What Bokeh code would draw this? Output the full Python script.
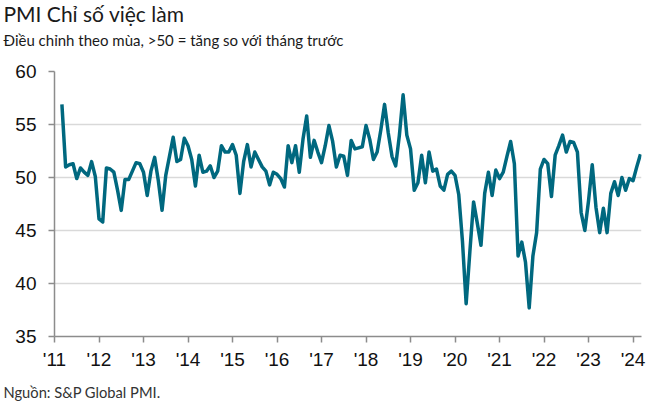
import pandas as pd
from bokeh.plotting import figure
from bokeh.models import Range1d, FixedTicker, ColumnDataSource, Title
from bokeh.embed import file_html
from bokeh.resources import INLINE

title_text = "PMI Chỉ số việc làm"
subtitle_text = "Điều chỉnh theo mùa, >50 = tăng so với tháng trước"
source_text = "Nguồn: S&P Global PMI."

first_month = "2011-03-01"
values = [
    56.9, 51.0, 51.2, 51.3, 49.9, 50.9, 50.5, 50.2, 51.5, 50.1,            # 2011 Mar-Dec
    46.1, 45.8, 50.9, 50.8, 50.5, 48.8, 46.9, 49.8, 49.8, 50.6, 51.4, 51.3,  # 2012
    50.5, 48.3, 50.6, 51.9, 49.7, 46.9, 50.2, 52.0, 53.8, 51.5, 51.7, 53.7,  # 2013
    53.0, 51.7, 49.2, 52.1, 50.5, 50.6, 51.1, 50.0, 50.6, 53.0, 52.4, 52.4,  # 2014
    53.1, 52.1, 48.5, 51.5, 53.1, 51.0, 52.4, 51.7, 51.0, 50.6, 49.3, 50.5,  # 2015
    50.3, 49.9, 49.1, 53.0, 51.4, 53.0, 50.5, 53.6, 55.8, 51.9, 53.5, 52.4,  # 2016
    51.4, 53.0, 54.9, 53.4, 51.0, 52.1, 52.0, 50.2, 53.5, 52.7, 52.8, 52.9,  # 2017
    54.9, 53.6, 51.7, 52.4, 54.5, 56.9, 54.2, 52.0, 51.1, 54.0, 57.8, 54.0,  # 2018
    52.7, 48.8, 49.5, 52.1, 49.5, 52.4, 50.6, 50.8, 49.2, 48.8, 50.3, 50.6,  # 2019
    50.2, 48.4, 44.0, 38.1, 43.0, 47.7, 45.7, 43.6, 48.5, 50.5, 48.3, 50.7,  # 2020
    49.9, 50.5, 52.0, 53.4, 51.3, 42.6, 43.9, 42.0, 37.7, 42.6, 44.8, 50.8,  # 2021
    51.7, 51.3, 48.2, 52.1, 53.0, 54.0, 52.4, 53.4, 53.3, 52.4, 46.7, 45.0,  # 2022
    47.8, 51.2, 47.2, 44.8, 47.1, 44.8, 48.5, 49.6, 48.3, 50.0, 48.8, 49.9,  # 2023
    49.7, 51.0, 52.2,                                                        # 2024 Jan-Mar
]

y_ticks = [35, 40, 45, 50, 55, 60]
x_tick_years = list(range(2011, 2025))
x_tick_labels = {y: "'" + str(y)[2:] for y in x_tick_years}

dates = pd.date_range(start=first_month, periods=len(values), freq="MS")
xs = list(dates.year + (dates.month - 1) / 12.0)
src = ColumnDataSource(data=dict(x=xs, y=values))

p = figure(width=650, height=405, output_backend="svg", toolbar_location=None,
           x_range=Range1d(2011.0, 2024.19), y_range=Range1d(35, 60),
           min_border_left=54, min_border_right=9, min_border_top=0, min_border_bottom=0)
p.outline_line_color = None
p.background_fill_color = "white"
p.border_fill_color = "white"

p.line("x", "y", source=src, line_color="#00687f", line_width=3.5, line_join="round")

for ax in (p.xaxis[0], p.yaxis[0]):
    ax.axis_line_color = "#8c8c8c"
    ax.axis_line_width = 1.5
    ax.major_tick_line_color = "#8c8c8c"
    ax.major_tick_line_width = 1.5
    ax.major_tick_in = 0
    ax.major_tick_out = 6
    ax.minor_tick_line_color = None
    ax.major_label_text_font = "Liberation Sans"
    ax.major_label_text_font_size = "19px"
    ax.major_label_text_color = "#111111"

p.yaxis.ticker = FixedTicker(ticks=y_ticks)
p.yaxis.major_label_standoff = 12
p.xaxis.ticker = FixedTicker(ticks=x_tick_years)
p.xaxis.major_label_overrides = x_tick_labels
p.xaxis.major_label_standoff = 6

p.xgrid.grid_line_color = None
p.ygrid.ticker = FixedTicker(ticks=y_ticks)
p.ygrid.grid_line_color = "#d9d9d9"
p.ygrid.grid_line_width = 1.5

def spacer(standoff):
    return Title(text=" ", text_font_size="1px", standoff=standoff)

# above: first item sits next to the frame
p.add_layout(spacer(15), "above")
p.add_layout(Title(text=subtitle_text, align="left", offset=-51, standoff=9.6,
                   text_font="Lato", text_font_size="15px", text_font_style="normal",
                   text_color="#1a1a1a"), "above")
p.add_layout(Title(text=title_text, align="left", offset=-51, standoff=-4,
                   text_font="Lato", text_font_size="21px", text_font_style="normal",
                   text_color="#1a1a1a"), "above")
# below: after the x axis
p.add_layout(spacer(0), "below")
p.add_layout(Title(text=source_text, align="left", offset=-51, standoff=10,
                   text_font="Lato", text_font_size="14.7px", text_font_style="normal",
                   text_color="#333333"), "below")

open("out.html", "w").write(file_html(p, INLINE))
